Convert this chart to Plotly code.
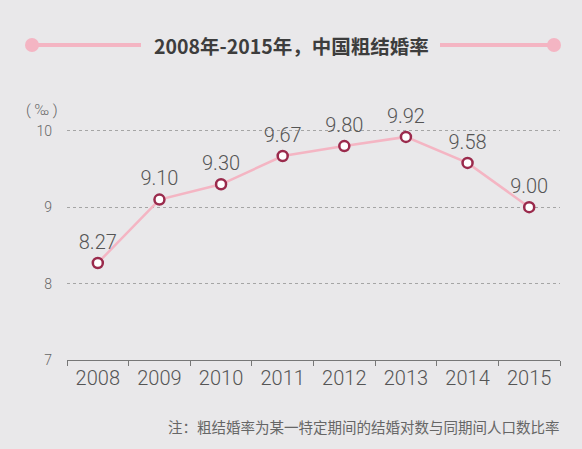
import plotly.graph_objects as go

years = ["2008", "2009", "2010", "2011", "2012", "2013", "2014", "2015"]
rates = [8.27, 9.10, 9.30, 9.67, 9.80, 9.92, 9.58, 9.00]
labels = ["8.27", "9.10", "9.30", "9.67", "9.80", "9.92", "9.58", "9.00"]
y_ticks = [7, 8, 9, 10]

title_text = "2008年-2015年，中国粗结婚率"
note_text = "注：粗结婚率为某一特定期间的结婚对数与同期间人口数比率"
unit_text = "( ‰ )"

W, H = 582, 449
L, R, T, B = 67, 22, 108, 89
pw, ph = W - L - R, H - T - B

def px(x):
    return (x - L) / pw

def py(y):
    return (H - B - y) / ph

bg = "#e9e8ea"
pink = "#f4b5c3"
font_cn = "Noto Sans CJK SC"
font_num = "Roboto"

fig = go.Figure()
fig.add_trace(go.Scatter(
    x=years, y=rates, mode="lines+markers",
    line=dict(color=pink, width=2.5),
    marker=dict(size=10, color="white", line=dict(color="#9a2a4c", width=2.5)),
    cliponaxis=False, hoverinfo="skip",
))
fig.add_trace(go.Scatter(
    x=years, y=rates, mode="markers+text",
    text=labels, textposition="top center",
    textfont=dict(family=font_num, size=20, color="#555555", weight=300),
    marker=dict(size=13, color="rgba(0,0,0,0)", line=dict(width=0)),
    cliponaxis=False, hoverinfo="skip",
))

shapes = []
ty = py(45)
for x0, x1 in [(32, 141), (440, 554)]:
    shapes.append(dict(type="line", xref="paper", yref="paper",
                       x0=px(x0), x1=px(x1), y0=ty, y1=ty,
                       line=dict(color=pink, width=4)))
for cx in [32, 554]:
    shapes.append(dict(type="circle", xref="paper", yref="paper",
                       xsizemode="pixel", ysizemode="pixel",
                       xanchor=px(cx), yanchor=ty,
                       x0=-7, x1=7, y0=-7, y1=7,
                       fillcolor=pink, line=dict(width=0)))

annotations = [
    dict(text="<b>" + title_text + "</b>", xref="paper", yref="paper", x=px(291), y=ty,
         xanchor="center", yanchor="middle", showarrow=False,
         font=dict(family=font_cn, size=19.5, color="#3d3d3d")),
    dict(text=note_text, xref="paper", yref="paper", x=px(562), y=py(426),
         xanchor="right", yanchor="middle", showarrow=False,
         font=dict(family=font_cn, size=14.5, color="#666666")),
    dict(text=unit_text, xref="paper", yref="paper", x=px(42), y=py(110),
         xanchor="center", yanchor="middle", showarrow=False,
         font=dict(family=font_num, size=15, color="#666666", weight=300)),
]

fig.update_layout(
    width=W, height=H,
    margin=dict(l=L, r=R, t=T, b=B, pad=0),
    paper_bgcolor=bg, plot_bgcolor=bg,
    showlegend=False,
    shapes=shapes, annotations=annotations,
    xaxis=dict(type="category", tickson="boundaries", ticks="outside",
               ticklen=5, tickcolor="#777777", showline=True,
               linecolor="#777777", linewidth=1, showgrid=False,
               tickfont=dict(family=font_num, size=20, color="#555555", weight=300),
               range=[-0.5, 7.5], fixedrange=True),
    yaxis=dict(range=[7, 7 + ph / 76.4], tickvals=y_ticks,
               showgrid=True, gridcolor="#a5a5a5", griddash="dot",
               gridwidth=1, zeroline=False, showline=False, ticks="",
               ticklabelstandoff=14,
               tickfont=dict(family=font_num, size=14, color="#666666", weight=300),
               fixedrange=True),
)

fig.write_html("out.html", config={"displayModeBar": False},
               post_script="document.body.style.margin='0';document.body.style.background='%s';" % bg)
